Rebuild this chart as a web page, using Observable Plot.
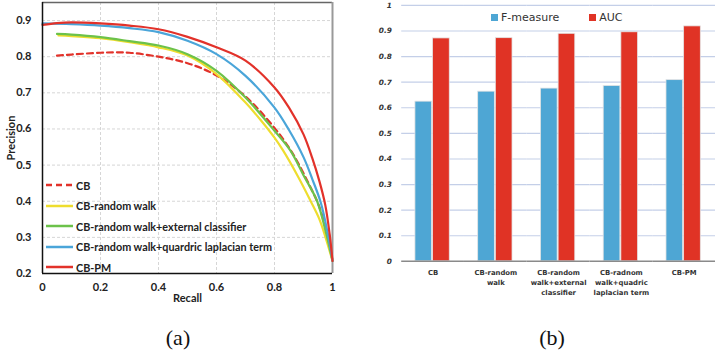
<!DOCTYPE html>
<html>
<head>
<meta charset="utf-8">
<script src="https://cdn.jsdelivr.net/npm/d3@7"></script>
<script src="https://cdn.jsdelivr.net/npm/@observablehq/plot@0.6"></script>
<style>
  html, body { margin: 0; padding: 0; background: #fff; overflow: hidden; }
  #wrap { position: relative; width: 716px; height: 354px; overflow: hidden; background: #fff; }
  .panel { position: absolute; top: 0; }
  .cap { position: absolute; font-family: "Liberation Serif", serif; font-size: 22px; color: #111; transform: translateX(-50%); }
  #legA { position: absolute; left: 46px; top: 175px; font-family: Lato, sans-serif; font-weight: bold; font-size: 10.8px; color: #222; }
  #legA .row { height: 20.5px; display: flex; align-items: center; }
  #legA svg { margin-right: 3px; }
  #legB { position: absolute; left: 491px; top: 11px; font-family: "DejaVu Sans", sans-serif; font-size: 11px; color: #333; display: flex; align-items: center; }
  #legB .sw { display: inline-block; width: 7px; height: 7px; margin-right: 3px; }
</style>
</head>
<body>
<div id="wrap">
  <div id="pa" class="panel" style="left:0"></div>
  <div id="legA"></div>
  <div id="pb" class="panel" style="left:360px"></div>
  <div id="legB"></div>
  <div class="cap" style="left:178px; top:325px">(a)</div>
  <div class="cap" style="left:552px; top:325px">(b)</div>
</div>
<script>
// ---------- Panel (a): precision-recall curves ----------
const seriesNames = ["CB", "CB-random walk", "CB-random walk+external classifier", "CB-random walk+quardric laplacian term", "CB-PM"];
const seriesColors = ["#e2322a", "#eedd2e", "#6cc24a", "#4aa5d9", "#e2322a"];

const recallCB = [0.05, 0.1, 0.2, 0.25, 0.3, 0.4, 0.5, 0.6, 0.7, 0.8, 0.85, 0.88, 0.92, 0.952, 0.975, 0.99, 1];
const precCB   = [0.803, 0.806, 0.811, 0.812, 0.811, 0.800, 0.782, 0.748, 0.690, 0.603, 0.548, 0.508, 0.445, 0.390, 0.330, 0.280, 0.235];

const recallRW = [0.055, 0.1, 0.2, 0.3, 0.4, 0.5, 0.6, 0.7, 0.75, 0.8, 0.83, 0.88, 0.925, 0.955, 0.976, 1];
const precRW   = [0.859, 0.857, 0.851, 0.840, 0.826, 0.803, 0.752, 0.673, 0.627, 0.576, 0.540, 0.470, 0.400, 0.350, 0.300, 0.235];

const recallEC = [0.05, 0.1, 0.2, 0.3, 0.4, 0.5, 0.6, 0.7, 0.8, 0.855, 0.9, 0.947, 0.98, 1];
const precEC   = [0.863, 0.861, 0.854, 0.843, 0.831, 0.807, 0.761, 0.687, 0.595, 0.540, 0.472, 0.400, 0.305, 0.235];

const recallQL = [0, 0.1, 0.2, 0.3, 0.4, 0.5, 0.6, 0.7, 0.8, 0.85, 0.9, 0.93, 0.96, 0.985, 1];
const precQL   = [0.892, 0.890, 0.886, 0.879, 0.868, 0.844, 0.807, 0.747, 0.659, 0.597, 0.522, 0.462, 0.395, 0.305, 0.235];

const recallPM = [0, 0.05, 0.1, 0.2, 0.3, 0.4, 0.5, 0.6, 0.7, 0.8, 0.85, 0.9, 0.93, 0.955, 0.975, 0.99, 1];
const precPM   = [0.888, 0.893, 0.895, 0.892, 0.886, 0.876, 0.855, 0.826, 0.789, 0.715, 0.659, 0.585, 0.520, 0.455, 0.390, 0.310, 0.235];

const xTicksA = [0, 0.2, 0.4, 0.6, 0.8, 1];
const yTicksA = [0.2, 0.3, 0.4, 0.5, 0.6, 0.7, 0.8, 0.9];

const curves = [
  [recallCB, precCB], [recallRW, precRW], [recallEC, precEC], [recallQL, precQL], [recallPM, precPM]
];
const prData = curves.flatMap(([r, p], k) => r.map((x, i) => ({series: seriesNames[k], recall: x, precision: p[i]})));

const fmtA = d => (d === 0 || d === 1) ? String(d) : d.toFixed(1);

const chartA = Plot.plot({
  width: 345, height: 305,
  marginLeft: 42, marginTop: 2, marginRight: 13, marginBottom: 32,
  style: {fontFamily: "Lato, sans-serif", fontSize: "11px", fontWeight: "bold", color: "#222", background: "transparent"},
  x: {domain: [0, 1]},
  y: {domain: [0.2, 0.95]},
  marks: [
    Plot.ruleX(xTicksA.slice(1, -1), {stroke: "#d6d6d6", strokeDasharray: "3,2"}),
    Plot.ruleY(yTicksA.slice(1), {stroke: "#d6d6d6", strokeDasharray: "3,2"}),
    Plot.ruleY([0.95], {stroke: "#666", strokeWidth: 1.5}),
    Plot.ruleX([1], {stroke: "#999", strokeWidth: 2}),
    Plot.axisX({ticks: xTicksA, tickFormat: fmtA, tickSize: 0, tickPadding: 10, label: "Recall", labelAnchor: "center", labelArrow: "none", labelOffset: 28, fontSize: 11}),
    Plot.axisY({ticks: yTicksA, tickFormat: d => d.toFixed(1), tickSize: 0, tickPadding: 11, label: "Precision", labelAnchor: "center", labelArrow: "none", labelOffset: 35}),
    ...seriesNames.map((s, k) => Plot.line(prData.filter(d => d.series === s), {
      x: "recall", y: "precision", stroke: seriesColors[k], strokeWidth: 2.2,
      strokeDasharray: k === 0 ? "6,4" : null, curve: "catmull-rom"
    })),
    Plot.ruleX([0], {stroke: "#111", strokeWidth: 1.5}),
    Plot.ruleY([0.2], {stroke: "#111", strokeWidth: 1.5})
  ]
});
document.getElementById("pa").appendChild(chartA);

// legend (a)
const legA = document.getElementById("legA");
seriesNames.forEach((s, k) => {
  const row = document.createElement("div");
  row.className = "row";
  row.innerHTML = `<svg width="27" height="6"><line x1="0" y1="3" x2="27" y2="3" stroke="${seriesColors[k]}" stroke-width="2.5" ${k === 0 ? 'stroke-dasharray="6,4"' : ''}/></svg><span>${s}</span>`;
  legA.appendChild(row);
});

// ---------- Panel (b): bar chart ----------
const categories = ["CB", "CB-random walk", "CB-random walk+external classifier", "CB-radnom walk+quadric laplacian term", "CB-PM"];
const categoryLabels = ["CB", "CB-random\nwalk", "CB-random\nwalk+external\nclassifier", "CB-radnom\nwalk+quadric\nlaplacian term", "CB-PM"];
const measures = ["F-measure", "AUC"];
const measureColors = ["#4ea6d4", "#e03325"];
const fMeasure = [0.624, 0.663, 0.675, 0.685, 0.708];
const auc = [0.871, 0.872, 0.889, 0.895, 0.918];
const yTicksB = [0, 0.1, 0.2, 0.3, 0.4, 0.5, 0.6, 0.7, 0.8, 0.9, 1];

const barData = categories.flatMap((c, i) => [
  {cat: c, measure: "F-measure", value: fMeasure[i]},
  {cat: c, measure: "AUC", value: auc[i]}
]);

const chartB = Plot.plot({
  width: 363, height: 305,
  marginLeft: 40, marginRight: 0, marginTop: 5, marginBottom: 39,
  facet: {marginTop: 0, marginBottom: 0},
  style: {fontFamily: "DejaVu Sans, sans-serif", color: "#333", background: "transparent", overflow: "visible"},
  fx: {domain: categories, padding: 0},
  x: {domain: measures, paddingInner: 0.054, paddingOuter: 0.77},
  y: {domain: [0, 1]},
  color: {domain: measures, range: measureColors},
  marks: [
    Plot.ruleY(yTicksB.slice(1), {stroke: "#c4cfe8", strokeWidth: 1.2}),
    Plot.barY(barData, {fx: "cat", x: "measure", y: "value", fill: "measure", stroke: "#e4e4e4", strokeWidth: 0.8}),
    Plot.ruleY([0], {stroke: "#8a8a8a", strokeWidth: 1.5}),
    Plot.axisFx({anchor: "bottom", tickFormat: d => categoryLabels[categories.indexOf(d)], tickSize: 0, tickPadding: 7, label: null, fontSize: 7, fontWeight: "bold", lineHeight: 1.45}),
    Plot.axisX({ticks: [], label: null}),
    Plot.axisY({ticks: yTicksB, tickFormat: d => (d === 0 || d === 1) ? String(d) : d.toFixed(1), tickSize: 0, tickPadding: 10, label: null, fontSize: 7.5, fontWeight: "bold", fontStyle: "italic"})
  ]
});
document.getElementById("pb").appendChild(chartB);

// legend (b)
const legB = document.getElementById("legB");
legB.innerHTML = measures.map((m, k) =>
  `<span class="sw" style="background:${measureColors[k]}"></span><span style="margin-right:${k === 0 ? 30 : 0}px">${m}</span>`
).join("");
</script>
</body>
</html>
